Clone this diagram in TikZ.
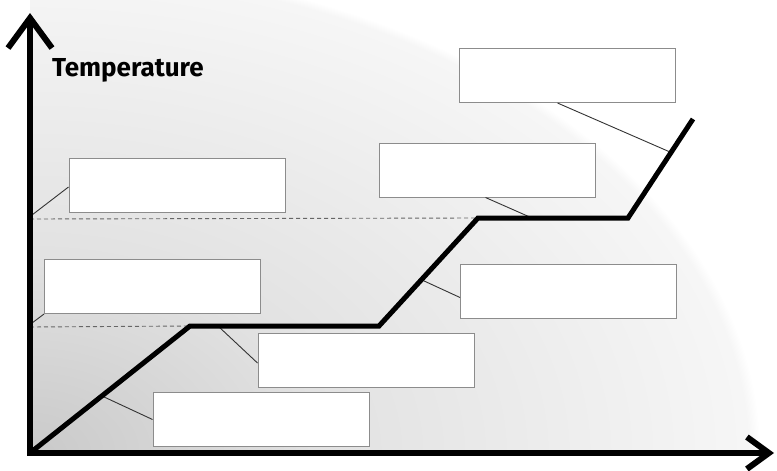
\documentclass[tikz,border=0pt]{standalone}
\usepackage{fontspec}
\newfontfamily\labelfont{Fira Sans}
\usetikzlibrary{arrows.meta}
\usetikzlibrary{calc}

\definecolor{bginner}{gray}{0.79}
\definecolor{bgmid}{gray}{0.885}
\definecolor{bgouter}{gray}{0.965}
\definecolor{boxgray}{gray}{0.55}
\pgfdeclareradialshading{bgfade}{\pgfpoint{0bp}{0bp}}{color(0bp)=(bginner); color(10bp)=(bgmid); color(24.6bp)=(bgouter); color(25bp)=(white); color(50bp)=(white)}

\begin{document}
\begin{tikzpicture}[x=1pt, y=-1pt,
    blankbox/.style={draw=boxgray, line width=1pt, fill=white, minimum width=216pt, minimum height=54pt, inner sep=0pt},
    leader/.style={draw=black!80, line width=0.9pt},
    guide/.style={draw=black!60, line width=0.9pt, dash pattern=on 4pt off 3pt},
    heatcurve/.style={line width=5pt, line join=miter}]

    \useasboundingbox (0,0) rectangle (777,471);
    % shaded backdrop
    \begin{scope}
        \clip (30,0) rectangle (777,453);
        \shade[shading=bgfade] (30,453) ellipse [x radius=730pt, y radius=490pt];
    \end{scope}

    % points of the curve
    \coordinate (o) at (30,453);
    \coordinate (c1) at (190,326);
    \coordinate (c2) at (379,326);
    \coordinate (c3) at (478,218);
    \coordinate (c4) at (628,218);
    \coordinate (c5) at (693,119);
    \coordinate (ytip) at (30,13);
    \coordinate (xtip) at (774,453);
    \coordinate (yhi) at (30,219);
    \coordinate (ylo) at (30,327);

    % dashed guides
    \draw[guide] (yhi) -- (c3);
    \draw[guide] (ylo) -- (c1);

    % blank boxes
    \node[blankbox] (boxA) at (567.5,75.5) {};
    \node[blankbox] (boxB) at (487.5,170) {};
    \node[blankbox] (boxC) at (177,185) {};
    \node[blankbox] (boxD) at (152.5,286.5) {};
    \node[blankbox] (boxE) at (568.5,291.5) {};
    \node[blankbox] (boxF) at (366,360) {};
    \node[blankbox] (boxG) at (261,419.5) {};

    % leader lines
    \coordinate (tA) at (670,152);
    \coordinate (tB) at (532,218);
    \coordinate (tC) at (32,215);
    \coordinate (tD) at (32,323);
    \coordinate (tE) at (422,280);
    \coordinate (tF) at (218,326);
    \coordinate (tG) at (102,396);
    \draw[leader] ([xshift=-10pt]boxA.south) -- (tA);
    \draw[leader] ([xshift=-2pt]boxB.south) -- (tB);
    \draw[leader] ([yshift=-2pt]boxC.west) -- (tC);
    \draw[leader] (boxD.south west) -- (tD);
    \draw[leader] ([yshift=-6pt]boxE.west) -- (tE);
    \draw[leader] ([yshift=-3pt]boxF.west) -- (tF);
    \draw[leader] (boxG.west) -- (tG);

    % heating curve
    \draw[heatcurve] (o) -- (c1) -- (c2) -- (c3) -- (c4) -- (c5);

    % axes
    \draw[line width=6pt, line join=miter, {Straight Barb[length=30pt,width=44pt]}-{Straight Barb[length=22pt,width=32pt]}] (ytip) -- (o) -- (xtip);
    \node[anchor=base west, font=\labelfont\bfseries\fontsize{26}{30}\selectfont, inner sep=0pt] (ylabel) at (52,76) {Temperature};

\end{tikzpicture}
\end{document}
